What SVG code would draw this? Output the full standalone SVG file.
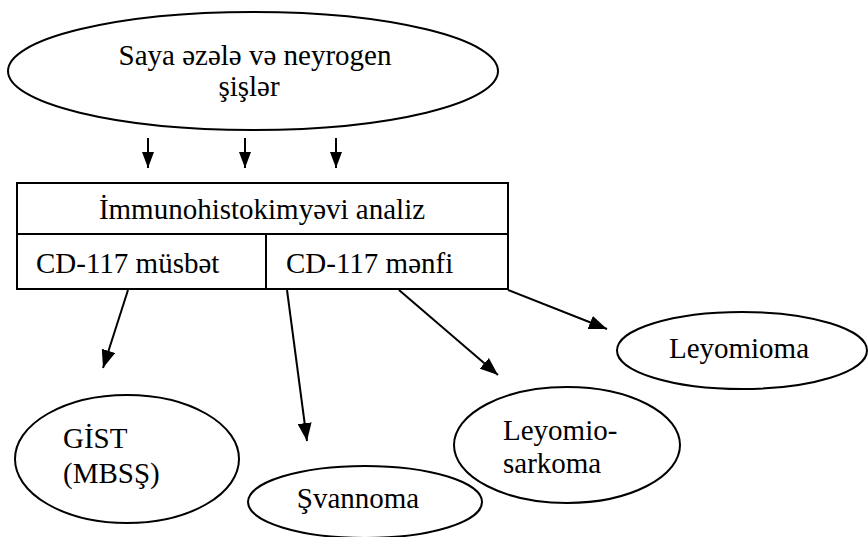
<svg xmlns="http://www.w3.org/2000/svg" width="868" height="537" viewBox="0 0 868 537">
<style>
text{font-family:'Liberation Serif','Times New Roman',serif;font-size:29px;fill:#000}
.s{fill:#fff;stroke:#000;stroke-width:2}
.c{stroke:#000;stroke-width:2;fill:none}
</style>
<defs>
<marker id="ah" viewBox="0 0 18 14" refX="18" refY="7" markerWidth="18" markerHeight="14" markerUnits="userSpaceOnUse" orient="auto">
<path d="M0,0 L18,7 L0,14 z" fill="#000"/>
</marker>
<marker id="ahs" viewBox="0 0 16 12" refX="16" refY="6" markerWidth="16" markerHeight="12" markerUnits="userSpaceOnUse" orient="auto">
<path d="M0,0 L16,6 L0,12 z" fill="#000"/>
</marker>
</defs>
<rect width="868" height="537" fill="#fff"/>
<g id="title">
<ellipse class="s" cx="253" cy="71" rx="245" ry="59"/>
<text x="255" y="65" text-anchor="middle">Saya əzələ və neyrogen</text>
<text x="249" y="96" text-anchor="middle">şişlər</text>
</g>
<g id="analysis">
<rect class="s" x="17" y="183" width="491" height="106"/>
<line class="c" x1="17" y1="234" x2="508" y2="234"/>
<line class="c" x1="266" y1="234" x2="266" y2="289"/>
<text x="262" y="219" text-anchor="middle">İmmunohistokimyəvi analiz</text>
<text x="36" y="273">CD-117 müsbət</text>
<text x="286" y="273">CD-117 mənfi</text>
</g>
<g id="gist">
<ellipse class="s" cx="127" cy="459" rx="112" ry="64" stroke-width="1.5"/>
<text x="63" y="448">GİST</text>
<text x="63" y="483">(MBSŞ)</text>
</g>
<g id="svannoma">
<ellipse class="s" cx="365" cy="502" rx="117" ry="36" stroke-width="1.5"/>
<text x="358" y="508" text-anchor="middle">Şvannoma</text>
</g>
<g id="leyomiosarkoma">
<ellipse class="s" cx="567" cy="445" rx="113" ry="58" stroke-width="1.5"/>
<text x="503" y="440">Leyomio-</text>
<text x="503" y="473">sarkoma</text>
</g>
<g id="leyomioma">
<ellipse class="s" cx="742" cy="350.5" rx="125" ry="38.5" stroke-width="1.5"/>
<text x="739" y="358" text-anchor="middle">Leyomioma</text>
</g>
<g id="connectors">
<line class="c" x1="148" y1="138" x2="148" y2="168" marker-end="url(#ahs)"/>
<line class="c" x1="245" y1="138" x2="245" y2="168" marker-end="url(#ahs)"/>
<line class="c" x1="336" y1="138" x2="336" y2="168" marker-end="url(#ahs)"/>
<line class="c" x1="128" y1="290" x2="103" y2="368" marker-end="url(#ah)"/>
<line class="c" x1="287" y1="290" x2="307" y2="441" marker-end="url(#ah)"/>
<line class="c" x1="399" y1="290" x2="498" y2="375" marker-end="url(#ah)"/>
<line class="c" x1="508" y1="290" x2="607" y2="329" marker-end="url(#ah)"/>
</g>
</svg>
